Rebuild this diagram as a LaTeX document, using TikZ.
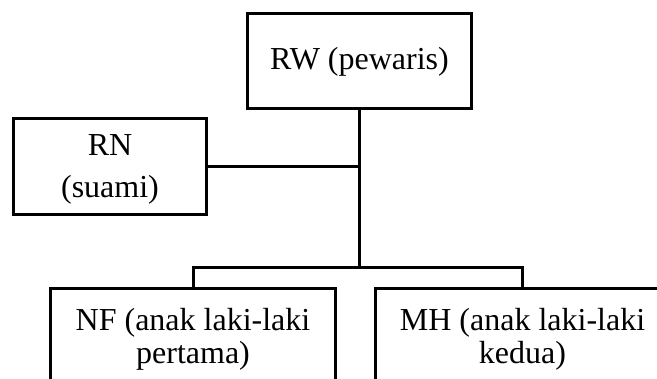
\documentclass[tikz,border=0pt]{standalone}
\usepackage{fontspec}
\setmainfont{Liberation Serif}
\begin{document}
\begin{tikzpicture}[x=1bp,y=-1bp,
  box/.style={draw=black,line width=3bp,inner sep=0pt,rectangle},
  lbl/.style={inner sep=0pt,anchor=base,font=\fontsize{32bp}{38bp}\selectfont},
  conn/.style={draw=black,line width=3bp}]
\useasboundingbox (0,0) rectangle (657,378);
\clip (0,0) rectangle (657,378);
\fill[white] (0,0) rectangle (657,378);
% boxes
\node[box,minimum width=224bp,minimum height=95bp] (RW) at (359,60.5) {};
\node[box,minimum width=193.4bp,minimum height=95.7bp] (RN) at (110,166.2) {};
\node[box,minimum width=284bp,minimum height=112bp] (NF) at (193,344) {};
\node[box,minimum width=295bp,minimum height=112bp] (MH) at (522.5,344) {};
% texts
\node[lbl] (RWt) at (359.5,69.5) {RW (pewaris)};
\node[lbl] (RNa) at (110,155.7) {RN};
\node[lbl] (RNb) at (110,197.7) {(suami)};
\node[lbl] (NFa) at (193,330) {NF (anak laki-laki};
\node[lbl] (NFb) at (193,363.3) {pertama)};
\node[lbl] (MHa) at (522.5,330) {MH (anak laki-laki};
\node[lbl] (MHb) at (522.5,363.3) {kedua)};
% connectors
\coordinate (bus) at (359,267);
\draw[conn] (RW.south) -- (bus);
\draw[conn] (RN.east) -- (RN.east -| RW.south);
\draw[conn] (NF.north) |- (bus) -| (MH.north);
\end{tikzpicture}
\end{document}
